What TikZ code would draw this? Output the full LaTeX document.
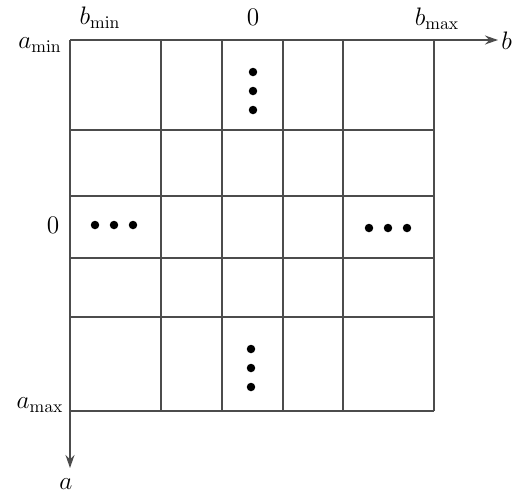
\documentclass[tikz,border=0pt]{standalone}
\usepackage{amsmath}
\usetikzlibrary{arrows.meta}
\tikzset{
  >={Stealth[length=2.6mm,width=1.8mm]},
  gridln/.style={line width=0.8pt,black!70},
  axis/.style={->,line width=0.8pt,black!70},
  dotmark/.style={circle,fill=black,inner sep=0pt,minimum size=1.7mm},
  axlbl/.style={font=\Large,inner sep=1pt},
}
\begin{document}
\begin{tikzpicture}[x=0.02cm,y=-0.02cm]
  \useasboundingbox (0,0) rectangle (515,494);
  \coordinate (o) at (70,40);
  \coordinate (bend) at (498,40);
  \coordinate (aend) at (70,468);
  % cells
  \foreach \x in {161,222,283,343,434}
    \draw[gridln] (\x,40) -- (\x,411);
  \foreach \y in {130,196,258,317,411}
    \draw[gridln] (70,\y) -- (434,\y);
  % axes
  \draw[axis] (o) -- (bend);
  \draw[axis] (o) -- (aend);
  % labels
  \node[axlbl] (amin) at (40,45) {$a_{\min}$};
  \node[axlbl] (bmin) at (100,18) {$b_{\min}$};
  \node[axlbl] (bzero) at (253,17) {$0$};
  \node[axlbl] (bmax) at (437,19) {$b_{\max}$};
  \node[axlbl,anchor=west,inner sep=0pt] (blbl) at (501,41) {$b$};
  \node[axlbl] (azero) at (53,225) {$0$};
  \node[axlbl] (amax) at (40,405) {$a_{\max}$};
  \node[axlbl] (albl) at (66,484) {$a$};
  % dots
  \foreach \y [count=\i] in {72,91,110}
    \node[dotmark] (top\i) at (253,\y) {};
  \foreach \y [count=\i] in {349,368,387}
    \node[dotmark] (bot\i) at (251,\y) {};
  \foreach \x [count=\i] in {95,114,133}
    \node[dotmark] (lft\i) at (\x,225) {};
  \foreach \x [count=\i] in {369,388,407}
    \node[dotmark] (rgt\i) at (\x,228) {};
\end{tikzpicture}
\end{document}
